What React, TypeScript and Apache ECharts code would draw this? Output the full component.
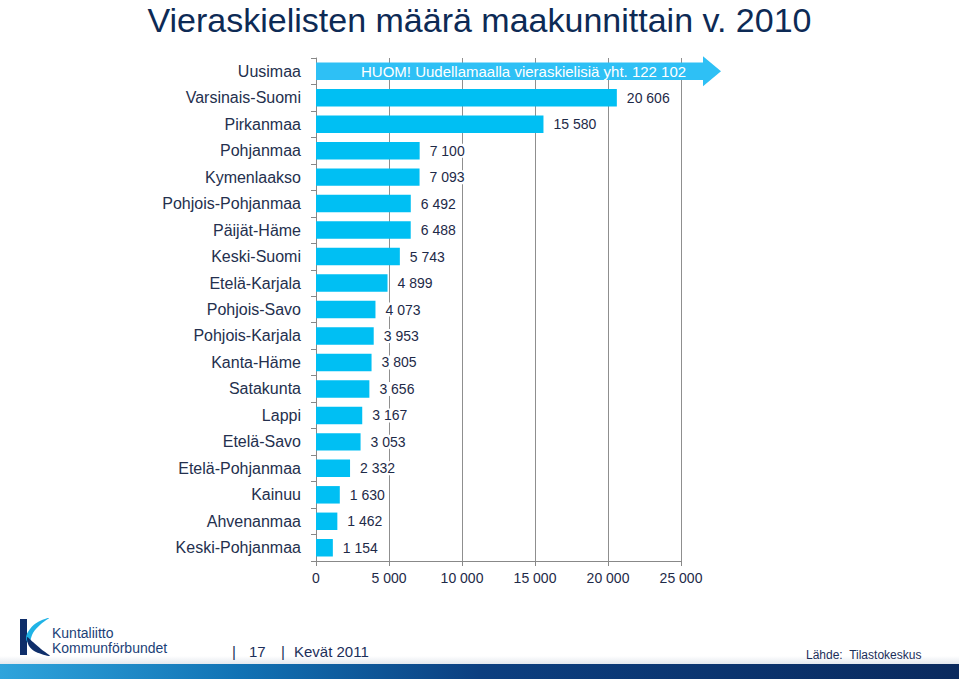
import React, { useEffect, useRef } from "react";
import * as echarts from "echarts";

const categories = [
  "Uusimaa",
  "Varsinais-Suomi",
  "Pirkanmaa",
  "Pohjanmaa",
  "Kymenlaakso",
  "Pohjois-Pohjanmaa",
  "Päijät-Häme",
  "Keski-Suomi",
  "Etelä-Karjala",
  "Pohjois-Savo",
  "Pohjois-Karjala",
  "Kanta-Häme",
  "Satakunta",
  "Lappi",
  "Etelä-Savo",
  "Etelä-Pohjanmaa",
  "Kainuu",
  "Ahvenanmaa",
  "Keski-Pohjanmaa",
];

const values = [
  122102, 20606, 15580, 7100, 7093, 6492, 6488, 5743, 4899, 4073, 3953, 3805,
  3656, 3167, 3053, 2332, 1630, 1462, 1154,
];

const xTicks = [0, 5000, 10000, 15000, 20000, 25000];
const arrowNote = "HUOM! Uudellamaalla vieraskielisiä yht.";

const fmt = (n: number) =>
  String(n).replace(/\B(?=(\d{3})+(?!\d))/g, " ");

const TEXT = "#1e2a48";
const BAR = "#00bff3";
const FONT = "'Liberation Sans', Arial, sans-serif";

export default function App() {
  const ref = useRef<HTMLDivElement>(null);
  useEffect(() => {
    if (!ref.current) return;
    const chart = echarts.init(ref.current, undefined, { renderer: "svg" });
    const axisMax = xTicks[xTicks.length - 1];
    const interval = xTicks[1] - xTicks[0];
    const barData = values.map((v, i) => (i === 0 ? "-" : v));

    chart.setOption({
      animation: false,
      backgroundColor: "#ffffff",
      textStyle: { fontFamily: FONT },
      grid: {
        left: 316,
        right: 278,
        top: 58,
        bottom: 118,
        containLabel: false,
        outerBoundsMode: "none",
      },
      xAxis: {
        type: "value",
        min: xTicks[0],
        max: axisMax,
        interval,
        axisLine: { show: true, lineStyle: { color: "#888888", width: 1 } },
        axisTick: { show: true, length: 5, lineStyle: { color: "#888888" } },
        splitLine: { show: true, lineStyle: { color: "#8f8f8f", width: 1 } },
        axisLabel: {
          color: TEXT,
          fontSize: 14,
          fontFamily: FONT,
          margin: 10,
          formatter: (v: number) => fmt(v),
        },
      },
      yAxis: {
        type: "category",
        data: categories,
        inverse: true,
        axisLine: { show: true, lineStyle: { color: "#888888", width: 1 } },
        axisTick: {
          show: true,
          length: 5,
          alignWithLabel: false,
          lineStyle: { color: "#888888" },
        },
        axisLabel: {
          color: "#24304e",
          fontSize: 16,
          fontFamily: FONT,
          margin: 15,
        },
      },
      series: [
        {
          type: "bar",
          data: barData,
          barWidth: "66%",
          itemStyle: { color: BAR },
          label: {
            show: true,
            position: "right",
            distance: 9,
            color: TEXT,
            fontSize: 14,
            fontFamily: FONT,
            backgroundColor: "#ffffff",
            padding: [0, 1],
            formatter: (p: any) => fmt(p.value),
          },
          z: 3,
        },
        {
          type: "custom",
          clip: false,
          z: 4,
          data: [[values[0], 0]],
          encode: { x: 0, y: 1 },
          renderItem: (params: any, api: any) => {
            const idx = api.value(1);
            const total = api.value(0);
            const start = api.coord([0, idx]);
            const end = api.coord([axisMax, idx]);
            const band = api.size([0, 1])[1];
            const h = band * 0.66;
            const cy = start[1];
            const x0 = start[0];
            const shaftEnd = end[0] + 22;
            const tip = end[0] + 40;
            const headHalf = 15;
            return {
              type: "group",
              children: [
                {
                  type: "polygon",
                  shape: {
                    points: [
                      [x0, cy - h / 2],
                      [shaftEnd, cy - h / 2],
                      [shaftEnd, cy - headHalf],
                      [tip, cy],
                      [shaftEnd, cy + headHalf],
                      [shaftEnd, cy + h / 2],
                      [x0, cy + h / 2],
                    ],
                  },
                  style: { fill: "#2ec0f5" },
                },
                {
                  type: "text",
                  style: {
                    text: arrowNote + " " + fmt(total),
                    x: x0 + 45,
                    y: cy,
                    fill: "#ffffff",
                    font: `15px ${FONT}`,
                    verticalAlign: "middle",
                    align: "left",
                  },
                },
              ],
            };
          },
        },
      ],
      graphic: [
        {
          type: "text",
          left: "center",
          top: 3,
          style: {
            text: "Vieraskielisten määrä maakunnittain v. 2010",
            fill: "#0d2a55",
            font: `34px ${FONT}`,
          },
        },
        {
          type: "rect",
          shape: { x: 0, y: 656, width: 959, height: 8 },
          style: {
            fill: new echarts.graphic.LinearGradient(0, 0, 0, 1, [
              { offset: 0, color: "#ffffff" },
              { offset: 1, color: "#e3e8ee" },
            ]),
          },
        },
        {
          type: "rect",
          shape: { x: 0, y: 664, width: 959, height: 15 },
          style: {
            fill: new echarts.graphic.LinearGradient(0, 0, 1, 0, [
              { offset: 0, color: "#2fa4dc" },
              { offset: 0.25, color: "#1172b4" },
              { offset: 0.5, color: "#0c3f80" },
              { offset: 1, color: "#0a2a5e" },
            ]),
          },
        },
        {
          type: "rect",
          shape: { x: 20, y: 619, width: 7, height: 36 },
          style: { fill: "#0f2e6a" },
        },
        {
          type: "polygon",
          shape: {
            smooth: 0.4,
            points: [
              [49, 618],
              [38, 622],
              [30, 629],
              [26, 638],
              [29, 643],
              [33, 633],
              [41, 624],
            ],
          },
          style: { fill: "#1fb3e6" },
        },
        {
          type: "polygon",
          shape: {
            smooth: 0.3,
            points: [
              [27, 637],
              [29, 646],
              [36, 652],
              [50, 656],
              [41, 649],
              [33, 642],
            ],
          },
          style: { fill: "#0f2e6a" },
        },
        {
          type: "text",
          x: 52,
          y: 633,
          style: {
            text: "Kuntaliitto",
            fill: "#1c3f77",
            font: `14px ${FONT}`,
            verticalAlign: "middle",
          },
        },
        {
          type: "text",
          x: 52,
          y: 648,
          style: {
            text: "Kommunförbundet",
            fill: "#1c3f77",
            font: `14px ${FONT}`,
            verticalAlign: "middle",
          },
        },
        {
          type: "text",
          x: 232,
          y: 651,
          style: {
            text: "|",
            fill: "#1c2f5a",
            font: `15px ${FONT}`,
            verticalAlign: "middle",
          },
        },
        {
          type: "text",
          x: 249,
          y: 651,
          style: {
            text: "17",
            fill: "#1c2f5a",
            font: `15px ${FONT}`,
            verticalAlign: "middle",
          },
        },
        {
          type: "text",
          x: 281,
          y: 651,
          style: {
            text: "|",
            fill: "#1c2f5a",
            font: `15px ${FONT}`,
            verticalAlign: "middle",
          },
        },
        {
          type: "text",
          x: 294,
          y: 651,
          style: {
            text: "Kevät 2011",
            fill: "#1c2f5a",
            font: `15px ${FONT}`,
            verticalAlign: "middle",
          },
        },
        {
          type: "text",
          x: 806,
          y: 655,
          style: {
            text: "Lähde:  Tilastokeskus",
            fill: "#1c2f5a",
            font: `12px ${FONT}`,
            verticalAlign: "middle",
          },
        },
      ],
    });
    return () => chart.dispose();
  }, []);

  return (
    <div
      ref={ref}
      style={{ position: "fixed", left: 0, top: 0, width: 959, height: 679 }}
    />
  );
}
